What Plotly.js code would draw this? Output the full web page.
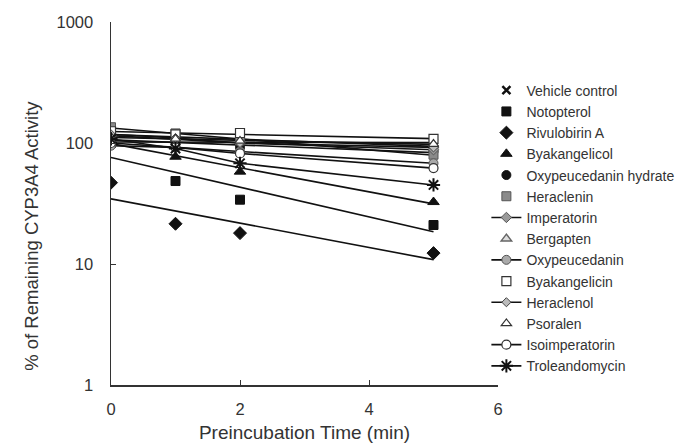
<!DOCTYPE html>
<html>
<head>
<meta charset="utf-8">
<script src="https://cdn.plot.ly/plotly-3.0.1.min.js"></script>
<style>html,body{margin:0;padding:0;background:#fff;}#chart{width:678px;height:448px;}</style>
</head>
<body>
<div id="chart"></div>
<script>
// Preincubation time (min)
const times = [0, 1, 2, 5];

// % of remaining CYP3A4 activity
const vehicleControl      = [100, 104, 102, 100];
const notopterol          = [100, 48.5, 34, 21];
const rivulobirinA        = [47, 21.5, 18, 12.3];
const byakangelicol       = [105, 77, 58, 32.5];
const oxypeucedaninHydr   = [110, 100, 92, 85];
const heraclenin          = [135, 120, 105, 80];
const imperatorin         = [115, 108, 100, 88];
const bergapten           = [120, 112, 104, 95];
const oxypeucedanin       = [95, 92, 85, 68];
const byakangelicin       = [125, 118, 121, 108];
const heraclenol          = [118, 110, 100, 92];
const psoralen            = [112, 108, 104, 98];
const isoimperatorin      = [100, 92, 82, 62];
const troleandomycin      = [108, 90, 68, 45];

const seriesNames = ["Vehicle control","Notopterol","Rivulobirin A","Byakangelicol",
  "Oxypeucedanin hydrate","Heraclenin","Imperatorin","Bergapten","Oxypeucedanin",
  "Byakangelicin","Heraclenol","Psoralen","Isoimperatorin","Troleandomycin"];
const seriesValues = [vehicleControl, notopterol, rivulobirinA, byakangelicol,
  oxypeucedaninHydr, heraclenin, imperatorin, bergapten, oxypeucedanin,
  byakangelicin, heraclenol, psoralen, isoimperatorin, troleandomycin];

// styles
const styles = [
  {symbol:"x-thin-open", size:8, color:"#111", line:{color:"#111", width:2.5}, lines:false},
  {symbol:"square", size:9, color:"#111", line:{color:"#111", width:1}, lines:false},
  {symbol:"diamond", size:10, color:"#111", line:{color:"#111", width:1}, lines:false},
  {symbol:"triangle-up", size:10, color:"#111", line:{color:"#111", width:1}, lines:false},
  {symbol:"circle", size:9, color:"#111", line:{color:"#111", width:1}, lines:false},
  {symbol:"square", size:9, color:"#8a8a8a", line:{color:"#555", width:1}, lines:false},
  {symbol:"diamond", size:8, color:"#999", line:{color:"#555", width:1}, lines:true},
  {symbol:"triangle-up", size:9, color:"#ddd", line:{color:"#666", width:1.5}, lines:false},
  {symbol:"circle", size:9, color:"#aaa", line:{color:"#555", width:1}, lines:true},
  {symbol:"square", size:9, color:"#fff", line:{color:"#333", width:1.2}, lines:false},
  {symbol:"diamond", size:7, color:"#bbb", line:{color:"#444", width:1}, lines:true},
  {symbol:"triangle-up", size:9, color:"#fff", line:{color:"#333", width:1.2}, lines:false},
  {symbol:"circle", size:9, color:"#fff", line:{color:"#333", width:1.2}, lines:true},
  {symbol:"asterisk-open", size:11, color:"#111", line:{color:"#111", width:2}, lines:true}
];

// exponential least-squares trendline
function expFit(xs, ys) {
  const n = xs.length;
  const ly = ys.map(v => Math.log(v));
  const mx = xs.reduce((a,b)=>a+b,0)/n;
  const my = ly.reduce((a,b)=>a+b,0)/n;
  let sxy = 0, sxx = 0;
  for (let i=0;i<n;i++){ sxy += (xs[i]-mx)*(ly[i]-my); sxx += (xs[i]-mx)*(xs[i]-mx); }
  const b = sxy/sxx, a = my - b*mx;
  const x0 = Math.min(...xs), x1 = Math.max(...xs);
  return {x:[x0, x1], y:[Math.exp(a+b*x0), Math.exp(a+b*x1)]};
}

const traces = [];
// trendlines first (behind markers)
seriesNames.forEach((name, i) => {
  if (!styles[i].lines) {
    const f = expFit(times, seriesValues[i]);
    traces.push({x:f.x, y:f.y, mode:"lines", type:"scatter", showlegend:false, hoverinfo:"skip",
      line:{color:"#111", width:1.6}});
  }
});
seriesNames.forEach((name, i) => {
  const s = styles[i];
  traces.push({
    x: times, y: seriesValues[i], name: name, type: "scatter",
    mode: s.lines ? "lines+markers" : "markers",
    line: {color:"#111", width:1.6},
    marker: {symbol:s.symbol, size:s.size, color:s.color, line:s.line}
  });
});

const font = "Liberation Sans, Arial, sans-serif";
const layout = {
  width: 678, height: 448,
  margin: {l:111, r:180, t:22, b:63, autoexpand:false},
  paper_bgcolor: "#fff", plot_bgcolor: "#fff",
  font: {family: font, color: "#333", size: 14},
  showlegend: true,
  legend: {x: 0.970, xanchor: "left", y: 0.855, yanchor: "top",
    font: {family: font, size: 14, color: "#333"}, bgcolor: "rgba(0,0,0,0)",
    tracegroupgap: 0, itemwidth: 30},
  xaxis: {range:[0,6], tickvals:[0,2,4,6], ticks:"inside", ticklen:5, tickcolor:"#333",
    showline:true, linecolor:"#333", linewidth:1.5, showgrid:false, zeroline:false,
    automargin:false,
    ticklabelstandoff: 9, tickfont:{size:16.5, color:"#333"},
    title:{text:"Preincubation Time (min)", font:{size:19, color:"#333"}, standoff:8}},
  yaxis: {type:"log", range:[0,3], tickvals:[1,10,100,1000], ticktext:["1","10","100","1000"],
    ticks:"inside", ticklen:5, tickcolor:"#333",
    showline:true, linecolor:"#333", linewidth:1.5, showgrid:false, zeroline:false,
    automargin:false,
    ticklabelstandoff: 13, tickfont:{size:16.5, color:"#333"}},
  annotations: [{
    text: "% of Remaining CYP3A4 Activity", textangle: -90,
    xref: "paper", yref: "paper", x: -0.205, y: 0.41,
    xanchor: "center", yanchor: "middle", showarrow: false,
    font: {family: font, size: 18.5, color: "#333"}
  }]
};

Plotly.newPlot("chart", traces, layout, {displayModeBar:false, staticPlot:true});
</script>
</body>
</html>
